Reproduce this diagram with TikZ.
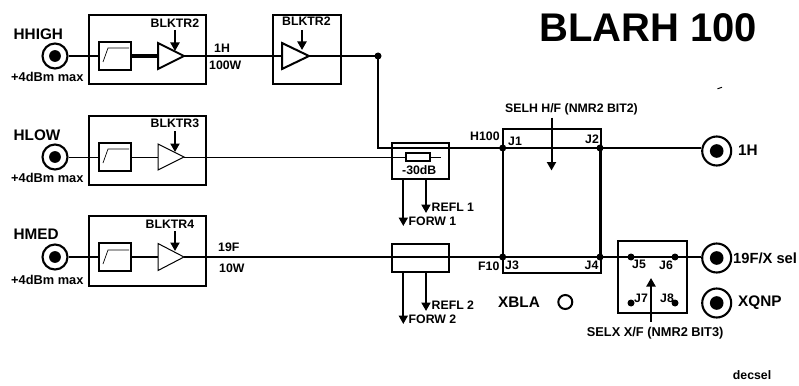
\documentclass[tikz,border=0pt]{standalone}
\usepackage{fontspec}
\setmainfont{Liberation Sans}
\usetikzlibrary{arrows.meta}
\tikzset{
  x=1pt,y=-1pt,
  wire/.style={line width=2pt},
  thin wire/.style={line width=1pt},
  ctl/.style={line width=2pt,-{Triangle[length=8.5pt,width=9pt]}},
  dot/.style={circle,fill=black,draw=none,minimum size=7pt,inner sep=0pt},
  lbl/.style={font=\bfseries\fontsize{12.3}{12}\selectfont,inner sep=0pt,anchor=west},
  mid/.style={font=\bfseries\fontsize{12.8}{13}\selectfont,inner sep=0pt,anchor=west},
  big/.style={font=\bfseries\fontsize{15.3}{16}\selectfont,inner sep=0pt,anchor=west},
}
\newcommand{\jack}[3]{%
  \node[circle,draw,line width=2.1pt,minimum size=#3pt,inner sep=0pt,fill=white] (#1) at #2 {};
  \fill (#1.center) circle[radius=0.5*0.47*#3];
}
\newcommand{\rect}[5]{\node[draw,line width=2pt,minimum width=#4-#2,minimum height=#5-#3,inner sep=0pt,anchor=north west,outer sep=0pt] (#1) at (#2,#3) {};}
\begin{document}
\begin{tikzpicture}
\useasboundingbox (0,0) rectangle (799,385);
\coordinate (tee) at (378,56);
\node[inner sep=0pt,anchor=west,font=\bfseries\fontsize{40}{40}\selectfont] (title) at (539,28) {BLARH 100};
% jacks
\jack{jh}{(55,56)}{25}
\jack{jl}{(55,157)}{25}
\jack{jm}{(55,257)}{25}
\jack{o1}{(716.7,151)}{29}
\jack{o2}{(716.7,258)}{29}
\jack{o3}{(716.7,303)}{29}
% blocks
\rect{b1}{88.5}{15}{206}{84}
\rect{b2}{272.5}{15}{341}{84}
\rect{b3}{88.5}{116}{206}{185}
\rect{b4}{88.5}{216}{206}{285.5}
\rect{f1}{98.5}{42}{130.5}{70}
\rect{f3}{98.5}{143}{130.5}{171}
\rect{f4}{98.5}{243}{130.5}{271}
\foreach \y in {48,149,250}{\draw[line width=0.7pt] (103,\y+14)--(108,\y)--(129,\y);}
% amps
\coordinate (a1i) at (158,56);\coordinate (a1o) at (184,56);
\coordinate (a2i) at (282,56);\coordinate (a2o) at (309,56);
\coordinate (a3i) at (158,157);\coordinate (a3o) at (184,157);
\coordinate (a4i) at (158,257);\coordinate (a4o) at (184,257);
\draw[wire] (158,43)--(184,56)--(158,69)--cycle;
\draw[wire] (282,43)--(309,56)--(282,69)--cycle;
\draw[thin wire] (158,144)--(184,157)--(158,170)--cycle;
\draw[thin wire] (158,243.5)--(184,257)--(158,270.5)--cycle;
% high path
\draw[wire] (jh)--(f1.west|-jh);
\draw[line width=4.5pt] (f1.east|-a1i)--(a1i);
\draw[wire] (a1o)--(a2i);
\draw[wire] (a2o)--(tee);
\node[dot] at (tee) {};
% couplers
\rect{c1}{392}{143.3}{449}{179}
\rect{c2}{392}{244}{449}{272}
\rect{res}{406}{152.5}{430}{161}
% switch box
\coordinate (j1) at (502.7,148);\coordinate (j2) at (600,148);
\coordinate (j3) at (502.7,257);\coordinate (j4) at (600,257);
\rect{sw}{502.7}{129}{600.5}{272.7}
\rect{sx}{618}{241}{686.7}{313}
\draw[wire] (tee)--(378,148)--(j1)--(j2)--(o1.west|-j2);
\draw[wire] (j1)--(j3);\draw[wire] (j2)--(j4);
\foreach \n in {j1,j2,j3,j4}{\node[dot] at (\n) {};}
\coordinate (j5) at (631,257);\coordinate (j6) at (675,257);
\coordinate (j7) at (631,303);\coordinate (j8) at (675,303);
\foreach \n in {j5,j6,j7,j8}{\node[dot] at (\n) {};}
% low path
\draw[thin wire] (jl)--(f3.west|-jl);
\draw[thin wire] (f3.east|-a3i)--(a3i);
\draw[thin wire] (a3o)--(res.west|-a3o);
\draw[thin wire] (res.east|-a3o)--(440.5,157);
% med path
\draw[wire] (jm)--(f4.west|-jm);
\draw[wire] (f4.east|-a4i)--(a4i);
\draw[wire] (a4o)--(o2.west|-a4o);
% control arrows
\draw[ctl] (175,30)--(175,51);
\draw[ctl] (302,30)--(302,50);
\draw[ctl] (175,131)--(175,152);
\draw[ctl] (175,231)--(175,251);
\draw[ctl] (403.3,179)--(403.3,226);
\draw[ctl] (426,179)--(426,213);
\draw[ctl] (403.3,272)--(403.3,324);
\draw[ctl] (426,272)--(426,311);
\draw[ctl] (551.5,117.5)--(551.5,170.5);
\draw[ctl] (651,321.5)--(651,278);
% xbla
\node[circle,draw,line width=2pt,minimum size=14pt,inner sep=0pt] (xc) at (565.3,302) {};
\draw[line width=1pt] (717.5,88.8)--(722,87.3);
% labels
\node[big] at (13.5,34) {HHIGH};
\node[big] at (13.5,135.5) {HLOW};
\node[big] at (13.5,234) {HMED};
\foreach \y in {77,178,279.5}{\node[mid] at (11,\y) {+4dBm max};}
\node[lbl] at (150.5,23) {BLKTR2};
\node[lbl] at (282,21.5) {BLKTR2};
\node[lbl] at (150.5,123) {BLKTR3};
\node[lbl] at (145.5,224) {BLKTR4};
\node[lbl] at (214,48.5) {1H};
\node[lbl] at (209,65) {100W};
\node[lbl] at (218,247) {19F};
\node[lbl] at (219,268.5) {10W};
\node[lbl] at (402,170) {-30dB};
\node[lbl] at (431.5,207.5) {REFL 1};
\node[lbl] at (408.5,221.5) {FORW 1};
\node[lbl] at (431.5,305.5) {REFL 2};
\node[lbl] at (408.5,319.5) {FORW 2};
\node[lbl] at (505,109) {SELH H/F (NMR2 BIT2)};
\node[lbl] at (470,136) {H100};
\node[lbl] at (508,141) {J1};
\node[lbl] at (585,139) {J2};
\node[lbl] at (478,266) {F10};
\node[lbl] at (505,265.5) {J3};
\node[lbl] at (584.5,265.5) {J4};
\node[lbl] at (632,264) {J5};
\node[lbl] at (659,265) {J6};
\node[lbl] at (634,298) {J7};
\node[lbl] at (660,298) {J8};
\node[big] at (738,150) {1H};
\node[big,font=\bfseries\fontsize{14.7}{15}\selectfont] at (733,258) {19F/X sel};
\node[big] at (738,303) {XQNP};
\node[big] at (498,302.5) {XBLA};
\node[mid] at (586.7,333) {SELX X/F (NMR2 BIT3)};
\node[lbl] at (732.7,375.5) {decsel};
\end{tikzpicture}
\end{document}
